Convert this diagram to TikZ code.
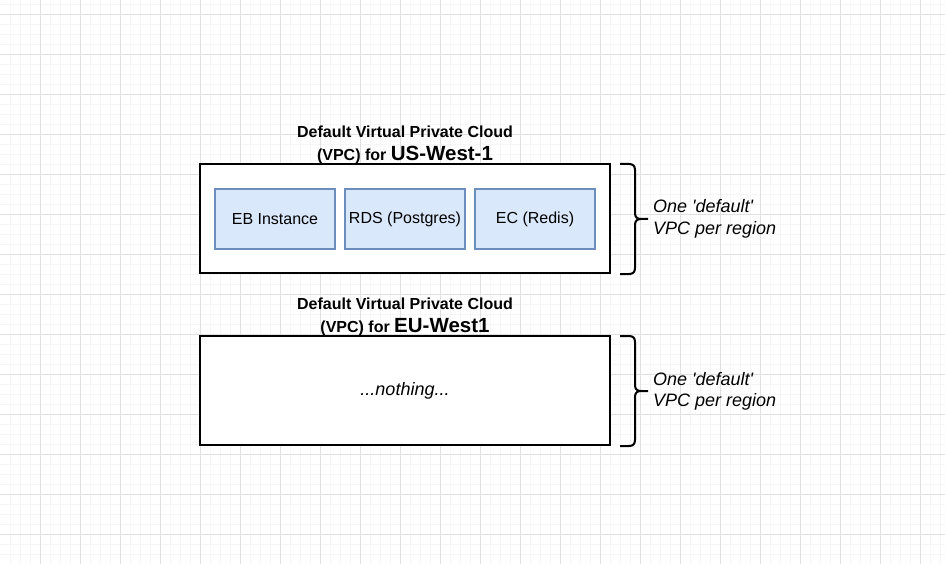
\documentclass[tikz,border=0pt]{standalone}
\usepackage{fontspec}
\setmainfont{Liberation Sans}[Ligatures=TeXOff]
\definecolor{gridmajor}{HTML}{E0E0E0}
\definecolor{gridminor}{HTML}{F6F6F6}
\definecolor{compfill}{HTML}{DAE8FC}
\definecolor{compdraw}{HTML}{6C8EBF}
\tikzset{
  minorline/.style={gridminor,line width=1pt},
  majorline/.style={gridmajor,line width=1pt},
  vpcbox/.style={draw=black,line width=2pt,fill=white,minimum width=410pt,minimum height=109pt,inner sep=0pt},
  compbox/.style={draw=compdraw,line width=1.4pt,fill=compfill,minimum width=120pt,minimum height=60pt,inner sep=0pt,font=\fontsize{16}{19}\selectfont},
  titleA/.style={anchor=base,font=\fontsize{16}{19}\selectfont\bfseries,inner sep=0pt},
  bracelabel/.style={anchor=base west,font=\fontsize{18}{21}\selectfont\itshape,inner sep=0pt},
  bracestroke/.style={draw=black,line width=2pt},
  vbrace/.pic={
    \draw[bracestroke] (-15,-55) -- (-6,-55) .. controls (-2,-55) and (0,-53) .. (0,-49)
      -- (0,-6) .. controls (0,-2) and (2,0) .. (6,0) -- (13,0);
    \draw[bracestroke] (6,0) .. controls (2,0) and (0,2) .. (0,6)
      -- (0,49) .. controls (0,53) and (-2,55) .. (-6,55) -- (-15,55);
  }
}
\begin{document}
\begin{tikzpicture}[x=1pt,y=-1pt]
\useasboundingbox (0,0) rectangle (945,564);
\fill[white] (0,0) rectangle (945,564);
% grid
\foreach \x in {10.5,20.5,...,940.5} \draw[minorline] (\x,0) -- (\x,564);
\foreach \y in {4.5,14.5,...,564.5} \draw[minorline] (0,\y) -- (945,\y);
\foreach \x in {40.5,80.5,...,920.5} \draw[majorline] (\x,0) -- (\x,564);
\foreach \y in {14.5,54.5,...,534.5} \draw[majorline] (0,\y) -- (945,\y);

% US-West-1
\node[titleA] (t1a) at (405,138) {Default Virtual Private Cloud};
\node[titleA] (t1b) at (405,161) {(VPC) for {\fontsize{20.5}{24}\selectfont US-West-1}};
\node[vpcbox] (us) at (405,218.5) {};
\node[compbox] (eb) at (275,219) {EB Instance};
\node[compbox] (rds) at (405,219) {RDS (Postgres)};
\node[compbox] (ec) at (535,219) {EC (Redis)};
\pic at (635,219) {vbrace};
\node[bracelabel] (l1a) at (653,213) {One 'default'};
\node[bracelabel] (l1b) at (653,234) {VPC per region};

% EU-West1
\node[titleA] (t2a) at (405,309.5) {Default Virtual Private Cloud};
\node[titleA] (t2b) at (405,332.5) {(VPC) for {\fontsize{20.5}{24}\selectfont EU-West1}};
\node[vpcbox,font=\fontsize{18}{21}\selectfont\itshape] (eu) at (405,390.5) {...nothing...};
\pic at (635,391) {vbrace};
\node[bracelabel] (l2a) at (653,385) {One 'default'};
\node[bracelabel] (l2b) at (653,406) {VPC per region};
\end{tikzpicture}
\end{document}
